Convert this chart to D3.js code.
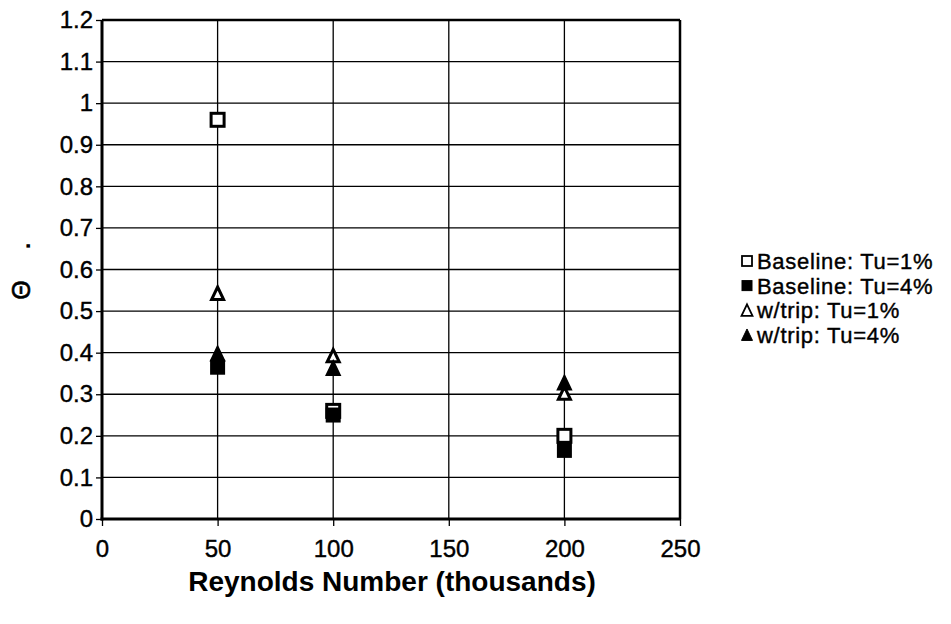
<!DOCTYPE html>
<html><head><meta charset="utf-8">
<script src="https://cdn.jsdelivr.net/npm/d3@7"></script>
<style>body{margin:0;background:#fff}svg{display:block}text{font-family:Arial,"Liberation Sans",sans-serif}</style>
</head><body><svg id="c" width="951" height="624"></svg>
<script>
const xTicks = [0, 50, 100, 150, 200, 250];
const yTicks = [0,0.1,0.2,0.3,0.4,0.5,0.6,0.7,0.8,0.9,1,1.1,1.2];
const reynolds = [50, 100, 200];
const baseline1 = [0.96, 0.26, 0.20];
const baseline4 = [0.365, 0.25, 0.165];
const trip1 = [0.54, 0.39, 0.30];
const trip4 = [0.395, 0.36, 0.325];
const seriesNames = ["Baseline: Tu=1%", "Baseline: Tu=4%", "w/trip: Tu=1%", "w/trip: Tu=4%"];

const svg = d3.select("#c");
const L=102, R=680, T=20, B=519;
const x = d3.scaleLinear().domain([0,250]).range([L,R]);
const y = d3.scaleLinear().domain([0,1.2]).range([B,T]);

// grid
svg.append("g").selectAll("line").data(yTicks.filter(d=>d>0)).join("line")
  .attr("x1",L).attr("x2",R).attr("y1",d=>y(d)).attr("y2",d=>y(d))
  .attr("stroke","#000").attr("stroke-width",d=>d===1.2?2.5:1.3);
svg.append("g").selectAll("line").data(xTicks.filter(d=>d>0)).join("line")
  .attr("y1",T).attr("y2",B).attr("x1",d=>x(d)).attr("x2",d=>x(d))
  .attr("stroke","#000").attr("stroke-width",d=>d===250?2.5:1.3);

// axes
const yAxis = svg.append("g").attr("transform",`translate(${L},0)`)
  .call(d3.axisLeft(y).tickValues(yTicks).tickFormat(d=>String(+d.toFixed(1))).tickSize(6).tickPadding(3));
const xAxis = svg.append("g").attr("transform",`translate(0,${B})`)
  .call(d3.axisBottom(x).tickValues(xTicks).tickSize(7).tickPadding(14));
[yAxis,xAxis].forEach(a=>{
  a.select(".domain").attr("stroke","#000").attr("stroke-width",3);
  a.selectAll(".tick line").attr("stroke","#000").attr("stroke-width",1.3);
  a.selectAll("text").attr("fill","#000").attr("stroke","#000").attr("stroke-width",0.4)
    .style("font-size","24px").style("font-family","Arial, 'Liberation Sans', sans-serif");
});
yAxis.select(".domain").attr("d",`M0,${B+1.5}V${T}`);
xAxis.select(".domain").attr("d",`M${L-1.5},0H${R}`);

// markers
const sq = 15;
function drawSquares(vals, filled){
  svg.append("g").selectAll("rect").data(reynolds.map((r,i)=>[r,vals[i]])).join("rect")
    .attr("x",d=>x(d[0])-sq/2+1).attr("y",d=>y(d[1])-sq/2+1).attr("width",sq-2).attr("height",sq-2)
    .attr("fill",filled?"#000":"#fff").attr("stroke","#000").attr("stroke-width",filled?2:3);
}
function triPath(cx,cy,s){return `M${cx},${cy-s*0.62}L${cx+s/2},${cy+s*0.42}L${cx-s/2},${cy+s*0.42}Z`;}
function drawTris(vals, filled){
  svg.append("g").selectAll("path").data(reynolds.map((r,i)=>[r,vals[i]])).join("path")
    .attr("d",d=>triPath(x(d[0]),y(d[1]),filled?14:12))
    .attr("fill",filled?"#000":"#fff").attr("stroke","#000").attr("stroke-width",filled?1.5:3).attr("stroke-linejoin","miter");
}
drawSquares(baseline1,false);
drawTris(trip1,false);
drawTris(trip4,true);
drawSquares(baseline4,true);

// legend
const legY=[261,285.6,310.2,334.8];
const lg = svg.append("g");
seriesNames.forEach((n,i)=>{
  const cx=747, cy=legY[i];
  if(i<2){
    lg.append("rect").attr("x",cx-5).attr("y",cy-5).attr("width",10).attr("height",10)
      .attr("fill",i===1?"#000":"#fff").attr("stroke","#000").attr("stroke-width",i===1?1:1.8);
  } else {
    lg.append("path").attr("d",triPath(cx,cy+1,11)).attr("fill",i===3?"#000":"#fff")
      .attr("stroke","#000").attr("stroke-width",i===3?1:1.8);
  }
  lg.append("text").attr("x",757).attr("y",cy+8).text(n).style("font-size","22px")
    .style("letter-spacing","0.7px")
    .attr("fill","#000").attr("stroke","#000").attr("stroke-width",0.4);
});

// axis titles
svg.append("text").attr("x",392).attr("y",591).attr("text-anchor","middle")
  .style("font-size","28px").style("font-weight","bold").text("Reynolds Number (thousands)");
svg.append("text").attr("transform","translate(21,290) rotate(-90)").attr("text-anchor","middle")
  .style("font-size","25px").attr("dy","0.35em").attr("stroke","#000").attr("stroke-width",0.6).text("Θ");
svg.append("text").attr("transform","translate(30,246) rotate(-90)").attr("text-anchor","middle")
  .style("font-size","24px").style("font-weight","bold").text(".");
</script></body></html>
